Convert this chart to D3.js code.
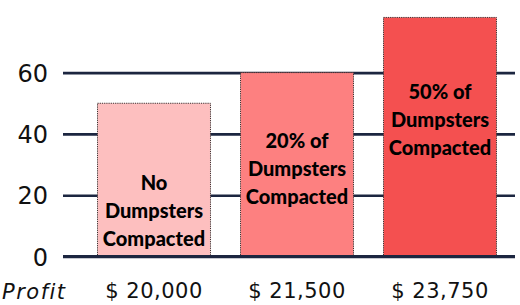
<!DOCTYPE html>
<html>
<head>
<meta charset="utf-8">
<script src="https://cdn.jsdelivr.net/npm/d3@7"></script>
<style>
  body { margin: 0; background: #fff; }
  svg { display: block; }
  .grid line { stroke: #1c2640; stroke-width: 2.6; }
  .grid text { font-family: "DejaVu Sans", sans-serif; font-size: 24px; fill: #111; }
  .xaxis text { font-family: "DejaVu Sans", sans-serif; font-size: 21px; letter-spacing: 0.5px; fill: #111; }
  .bar-label { font-family: "Lato", sans-serif; font-weight: 900; font-size: 20px; fill: #000; }
</style>
</head>
<body>
<div id="chart"></div>
<script>
var scenarios = ["No Dumpsters Compacted", "20% of Dumpsters Compacted", "50% of Dumpsters Compacted"];
var values = [50, 60, 78];
var profits = [20000, 21500, 23750];
var yTicks = [0, 20, 40, 60];
var barColors = ["#fdbfbf", "#fd8080", "#f45050"];

var width = 520, height = 305;

var svg = d3.select("#chart").append("svg")
    .attr("width", width)
    .attr("height", height);

var x = d3.scaleBand()
    .domain(scenarios)
    .range([82.5, 511.5])
    .paddingInner(0.21)
    .paddingOuter(0.105);

var y = d3.scaleLinear()
    .domain([0, 80])
    .range([256.5, 11.3]);

// gridlines + y labels
svg.append("g")
    .attr("class", "grid")
    .attr("transform", "translate(63,0)")
    .call(d3.axisLeft(y).tickValues(yTicks).tickSize(-452).tickPadding(15))
    .call(function(g) { g.select(".domain").remove(); })
    .call(function(g) { g.selectAll("text").attr("dy", "0.36em"); });

// bars
svg.append("g").selectAll("rect")
    .data(scenarios)
    .enter().append("rect")
      .attr("x", function(d) { return x(d); })
      .attr("y", function(d, i) { return y(values[i]); })
      .attr("width", x.bandwidth())
      .attr("height", function(d, i) { return y(0) - y(values[i]); })
      .attr("fill", function(d, i) { return barColors[i]; })
      .attr("stroke", "#3a3030")
      .attr("stroke-width", 1)
      .attr("stroke-dasharray", "1.2,1");

// baseline on top
svg.append("line")
    .attr("x1", 63).attr("x2", 515)
    .attr("y1", y(0)).attr("y2", y(0))
    .attr("stroke", "#1c2640")
    .attr("stroke-width", 2.8);

// label anchors (middle line, in value units)
var labelAt = [15, 28.5, 44.6];
var lineGap = 28;

function splitLabel(s) {
  var w = s.split(" ");
  if (w[0] === "No") return ["No", "Dumpsters", "Compacted"];
  return [w[0] + " " + w[1], w[2], w[3]];
}

var labels = svg.append("g").selectAll("text")
    .data(scenarios)
    .enter().append("text")
      .attr("class", "bar-label")
      .attr("text-anchor", "middle");

labels.each(function(d, i) {
  var lines = splitLabel(d);
  var cx = x(d) + x.bandwidth() / 2;
  var cy = y(labelAt[i]);
  d3.select(this).selectAll("tspan")
    .data(lines)
    .enter().append("tspan")
      .attr("x", cx)
      .attr("y", function(l, j) { return cy + (j - 1) * lineGap; })
      .attr("dy", "0.35em")
      .text(function(l) { return l; });
});

// x axis labels
var fmt = d3.format(",");
svg.append("g")
    .attr("class", "xaxis")
    .attr("transform", "translate(0,283)")
    .call(d3.axisBottom(x).tickSize(0).tickPadding(0)
      .tickFormat(function(d) { return "$ " + fmt(profits[scenarios.indexOf(d)]); }))
    .call(function(g) { g.select(".domain").remove(); });

svg.append("text")
    .attr("x", 2)
    .attr("y", 291)
    .attr("dy", "0.36em")
    .style("font-family", "DejaVu Sans, sans-serif")
    .style("font-style", "italic")
    .style("font-size", "21px")
    .style("letter-spacing", "1.5px")
    .style("fill", "#111")
    .text("Profit");
</script>
</body>
</html>
